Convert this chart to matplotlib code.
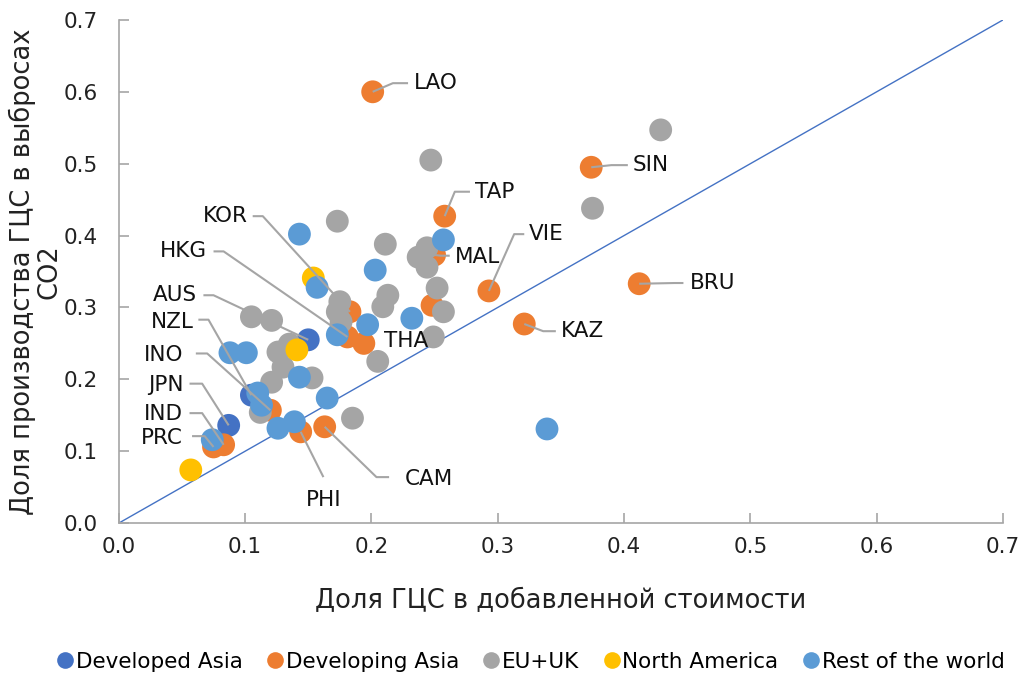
import numpy as np
import matplotlib
matplotlib.use('Agg')
import matplotlib.pyplot as plt
from matplotlib.lines import Line2D

plt.rcParams['font.family'] = ['DejaVu Sans']

# Developed Asia
dev_names = ['AUS', 'JPN', 'NZL']
dev_x = [0.150, 0.087, 0.105]
dev_y = [0.255, 0.136, 0.178]

# Developing Asia
dvg_names = ['LAO', 'SIN', 'TAP', 'VIE', 'BRU', 'KAZ', 'THA', 'MAL', 'KOR', 'HKG',
             'INO', 'IND', 'PRC', 'PHI', 'CAM', '']
dvg_x = [0.201, 0.374, 0.258, 0.293, 0.412, 0.321, 0.194, 0.250, 0.183, 0.181,
         0.120, 0.083, 0.075, 0.144, 0.163, 0.248]
dvg_y = [0.600, 0.495, 0.427, 0.323, 0.333, 0.277, 0.250, 0.373, 0.294, 0.259,
         0.157, 0.109, 0.106, 0.127, 0.134, 0.303]

# EU+UK
eu_x = [0.429, 0.247, 0.375, 0.173, 0.211, 0.244, 0.237, 0.244, 0.252, 0.257,
        0.249, 0.213, 0.209, 0.175, 0.173, 0.205, 0.105, 0.121, 0.126, 0.135,
        0.130, 0.121, 0.153, 0.112, 0.185, 0.176]
eu_y = [0.547, 0.505, 0.438, 0.420, 0.388, 0.383, 0.370, 0.356, 0.327, 0.294,
        0.259, 0.317, 0.301, 0.308, 0.294, 0.225, 0.287, 0.282, 0.238, 0.249,
        0.217, 0.196, 0.202, 0.154, 0.146, 0.280]

# North America
na_x = [0.154, 0.141, 0.057]
na_y = [0.341, 0.241, 0.074]

# Rest of the world
row_x = [0.143, 0.157, 0.203, 0.257, 0.197, 0.173, 0.232, 0.088, 0.101, 0.143,
         0.110, 0.113, 0.165, 0.126, 0.139, 0.074, 0.339]
row_y = [0.402, 0.328, 0.352, 0.394, 0.276, 0.262, 0.285, 0.237, 0.237, 0.203,
         0.181, 0.164, 0.174, 0.132, 0.141, 0.116, 0.131]

series = [
    ('Developed Asia', dev_x, dev_y, '#4472C4'),
    ('Developing Asia', dvg_x, dvg_y, '#ED7D31'),
    ('EU+UK', eu_x, eu_y, '#A5A5A5'),
    ('North America', na_x, na_y, '#FFC000'),
    ('Rest of the world', row_x, row_y, '#5B9BD5'),
]

# label layout: name -> (text x, text y, ha, leader start, leader elbow)
label_pos = {
    'LAO': (0.234, 0.612, 'left', (0.229, 0.612), (0.217, 0.612)),
    'SIN': (0.407, 0.498, 'left', (0.403, 0.498), (0.390, 0.498)),
    'TAP': (0.282, 0.461, 'left', (0.278, 0.461), (0.266, 0.461)),
    'VIE': (0.325, 0.402, 'left', (0.321, 0.402), (0.313, 0.402)),
    'BRU': (0.452, 0.334, 'left', (0.447, 0.334), (0.440, 0.334)),
    'KAZ': (0.350, 0.267, 'left', (0.346, 0.267), (0.336, 0.267)),
    'MAL': (0.266, 0.370, 'left', (0.262, 0.372), (0.255, 0.372)),
    'THA': (0.210, 0.253, 'left', None, None),
    'KOR': (0.102, 0.427, 'right', (0.106, 0.427), (0.114, 0.427)),
    'HKG': (0.070, 0.378, 'right', (0.075, 0.378), (0.083, 0.378)),
    'AUS': (0.062, 0.317, 'right', (0.067, 0.317), (0.075, 0.317)),
    'NZL': (0.059, 0.280, 'right', (0.063, 0.283), (0.071, 0.283)),
    'INO': (0.051, 0.234, 'right', (0.061, 0.236), (0.070, 0.236)),
    'JPN': (0.051, 0.192, 'right', (0.056, 0.194), (0.066, 0.194)),
    'IND': (0.051, 0.152, 'right', (0.056, 0.153), (0.066, 0.153)),
    'PRC': (0.051, 0.118, 'right', (0.058, 0.121), (0.068, 0.121)),
    'PHI': (0.162, 0.032, 'center', (0.162, 0.064), (0.162, 0.064)),
    'CAM': (0.226, 0.061, 'left', (0.214, 0.064), (0.204, 0.064)),
}

fig = plt.figure(figsize=(10.24, 6.75), dpi=100)
ax = fig.add_axes([0.116, 0.225, 0.8635, 0.7455])

ax.plot([0, 0.7], [0, 0.7], color='#4472C4', lw=1, zorder=1)

for name, xs, ys, col in series:
    ax.scatter(xs, ys, s=270, color=col, edgecolors='none', label=name, zorder=2)

all_names = dev_names + dvg_names
all_x = dev_x + dvg_x
all_y = dev_y + dvg_y
for n, px, py in zip(all_names, all_x, all_y):
    if n not in label_pos:
        continue
    tx, ty, ha, st, el = label_pos[n]
    ax.text(tx, ty, n, ha=ha, va='center', fontsize=15.5, color='#111111', zorder=5)
    if st is not None:
        ax.plot([st[0], el[0], px], [st[1], el[1], py], color='#A5A5A5', lw=1.5,
                zorder=4, solid_capstyle='butt')

ax.set_xlim(0, 0.7)
ax.set_ylim(0, 0.7)
ticks = np.arange(0, 0.71, 0.1)
ax.set_xticks(ticks)
ax.set_yticks(ticks)
ax.set_xticklabels([f'{t:.1f}' for t in ticks])
ax.set_yticklabels([f'{t:.1f}' for t in ticks])
ax.tick_params(direction='in', length=7, width=1.2, color='#A6A6A6',
               labelsize=15.5, labelcolor='#222222')
ax.tick_params(axis='x', pad=10)
ax.tick_params(axis='y', pad=15)
for s in ['top', 'right']:
    ax.spines[s].set_visible(False)
for s in ['left', 'bottom']:
    ax.spines[s].set_color('#A6A6A6')
    ax.spines[s].set_linewidth(1.2)

ax.set_xlabel('Доля ГЦС в добавленной стоимости', fontsize=18.5, labelpad=22, color='#222222')
ax.set_ylabel('Доля производства ГЦС в выбросах\nCO2', fontsize=18.5, labelpad=1,
              color='#222222', linespacing=1.0)

handles = [Line2D([], [], marker='o', ls='none', markersize=12, color=c,
                  markeredgewidth=0) for _, _, _, c in series]
fig.legend(handles, [s[0] for s in series], loc='center', bbox_to_anchor=(0.517, 0.02),
           ncol=5, frameon=False, fontsize=15.5, handletextpad=0.0, columnspacing=1.0,
           handlelength=1.0)

fig.savefig('out.png', dpi=100)
